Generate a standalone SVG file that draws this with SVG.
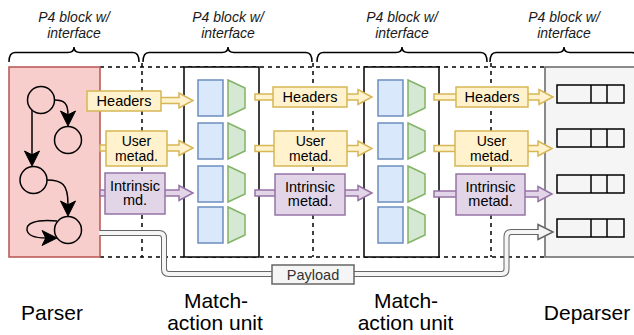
<svg xmlns="http://www.w3.org/2000/svg" width="634" height="335" viewBox="0 0 634 335">
<style>
text{font-family:"Liberation Sans",Arial,Helvetica,sans-serif;fill:#000}
.dash{stroke:#000;stroke-width:1.5;stroke-dasharray:4 4;fill:none}
.brace{stroke:#000;stroke-width:1.5;fill:none}
.bl{font-size:14px;font-style:italic;text-anchor:middle;fill:#1a1a1a}
.big{font-size:21px;text-anchor:middle}
.mau{fill:#fff;stroke:#000;stroke-width:1.5}
.tbl{fill:#dae8fc;stroke:#6c8ebf;stroke-width:1.5}
.act{fill:#d5e8d4;stroke:#82b366;stroke-width:1.5}
.bar{fill:none;stroke:#000;stroke-width:1.5}
.circ{fill:none;stroke:#000;stroke-width:1.5}
.edge{fill:none;stroke:#000;stroke-width:1.5}
.ah{fill:#000;stroke:#000;stroke-width:1}
.ya{fill:#fff2cc;stroke:#d6b656;stroke-width:1.5}
.pa{fill:#e1d5e7;stroke:#9673a6;stroke-width:1.5}
.lt{font-size:14.5px;text-anchor:middle}
.lt2{font-size:14px;text-anchor:middle}
</style>
<defs>
<g id="mauInner">
<rect class="tbl" x="0" y="0" width="25" height="36"/>
<polygon class="act" points="30,0 47,8 47,28 30,36"/>
</g>
<g id="bar3">
<rect class="bar" x="0" y="0" width="67" height="18"/>
<line class="bar" x1="34" y1="0" x2="34" y2="18"/>
<line class="bar" x1="50" y1="0" x2="50" y2="18"/>
</g>
</defs>

<g id="boundaries">
<line class="dash" x1="100" y1="67" x2="545" y2="67"/>
<line class="dash" x1="100" y1="257" x2="545" y2="257"/>
<line class="dash" x1="142" y1="63" x2="142" y2="257"/>
<line class="dash" x1="313" y1="63" x2="313" y2="257"/>
<line class="dash" x1="491" y1="63" x2="491" y2="257"/>
</g>

<g id="braces">
<path class="brace" d="M9,62 Q9,52.5 15,52.5 H68 Q74,52.5 74,47 Q74,52.5 80,52.5 H133 Q139,52.5 139,62"/>
<path class="brace" d="M143,62 Q143,52.5 149,52.5 H222 Q228,52.5 228,47 Q228,52.5 234,52.5 H306 Q312,52.5 312,62"/>
<path class="brace" d="M317,62 Q317,52.5 323,52.5 H396 Q402,52.5 402,47 Q402,52.5 408,52.5 H481 Q487,52.5 487,62"/>
<path class="brace" d="M490,62 Q490,52.5 496,52.5 H558 Q564,52.5 564,47 Q564,52.5 570,52.5 H632 Q638,52.5 638,62"/>
<text class="bl" x="74" y="21.5">P4 block w/</text>
<text class="bl" x="74" y="37.5">interface</text>
<text class="bl" x="228" y="21.5">P4 block w/</text>
<text class="bl" x="228" y="37.5">interface</text>
<text class="bl" x="402" y="21.5">P4 block w/</text>
<text class="bl" x="402" y="37.5">interface</text>
<text class="bl" x="564" y="21.5">P4 block w/</text>
<text class="bl" x="564" y="37.5">interface</text>
</g>

<g id="parser">
<rect x="9" y="67" width="91" height="190" fill="#f8cecc" stroke="#b85450" stroke-width="1.5"/>
<circle class="circ" cx="41" cy="100" r="13.5"/>
<circle class="circ" cx="68" cy="140" r="13.5"/>
<circle class="circ" cx="33.5" cy="180" r="13.5"/>
<circle class="circ" cx="68" cy="230" r="13.5"/>
<path class="edge" d="M54.5,100 C64,100 68,103 68,115"/>
<polygon class="ah" points="68,126 60.5,111 68,114.75 75.5,111"/>
<path class="edge" d="M32,110 V155"/>
<polygon class="ah" points="32,166 24.5,151 32,154.75 39.5,151"/>
<path class="edge" d="M47,180 C62,180 68,184 68,204"/>
<polygon class="ah" points="68,216 60.5,201 68,204.75 75.5,201"/>
<path class="edge" d="M57,221 C34,219 26,224 27,230 C28,236 36,238 46,238"/>
<polygon class="ah" points="57,238 42,230.5 45.75,238 42,245.5"/>
<text class="big" x="52" y="320">Parser</text>
</g>

<g id="mau1">
<rect class="mau" x="184" y="67" width="75" height="190"/>
<use href="#mauInner" x="198" y="80"/>
<use href="#mauInner" x="198" y="123"/>
<use href="#mauInner" x="198" y="166"/>
<use href="#mauInner" x="198" y="207"/>
<text class="big" x="216" y="308">Match-</text>
<text class="big" x="215" y="330">action unit</text>
</g>

<g id="mau2">
<rect class="mau" x="364" y="67" width="75" height="190"/>
<use href="#mauInner" x="378" y="80"/>
<use href="#mauInner" x="378" y="123"/>
<use href="#mauInner" x="378" y="166"/>
<use href="#mauInner" x="378" y="207"/>
<text class="big" x="406" y="308">Match-</text>
<text class="big" x="405.5" y="330">action unit</text>
</g>

<g id="deparser">
<rect x="545" y="67" width="100" height="190" fill="#f5f5f5" stroke="#666" stroke-width="1.5"/>
<use href="#bar3" x="557" y="85"/>
<use href="#bar3" x="557" y="129"/>
<use href="#bar3" x="557" y="175"/>
<use href="#bar3" x="557" y="219"/>
<text class="big" x="587" y="320">Deparser</text>
</g>

<g id="connectors">
<polygon class="ya" points="100,97.5 179,97.5 179,93 193,100.5 179,108 179,103.5 100,103.5"/>
<polygon class="ya" points="100,145 179,145 179,140.5 193,148 179,155.5 179,151 100,151"/>
<polygon class="pa" points="100,190 179,190 179,185.5 193,193 179,200.5 179,196 100,196"/>
<polygon class="ya" points="255,94 358,94 358,89.5 372,97 358,104.5 358,100 255,100"/>
<polygon class="ya" points="255,145.5 358,145.5 358,141 372,148.5 358,156 358,151.5 255,151.5"/>
<polygon class="pa" points="255,190 358,190 358,185.5 372,193 358,200.5 358,196 255,196"/>
<polygon class="ya" points="434,94 539,94 539,89.5 553,97 539,104.5 539,100 434,100"/>
<polygon class="ya" points="434,145.5 538,145.5 538,141 552,148.5 538,156 538,151.5 434,151.5"/>
<polygon class="pa" points="434,191 538,191 538,186.5 552,194 538,201.5 538,197 434,197"/>
<g id="payload">
<path d="M100,233 H159 Q164,233 164,238 V269 Q164,274 169,274 H501.5 Q506.5,274 506.5,269 V237 Q506.5,232 511.5,232 H539" fill="none" stroke="#666" stroke-width="6"/>
<polygon points="538,224.5 553,232 538,239.5" fill="#f5f5f5" stroke="#666" stroke-width="1.5" stroke-linejoin="miter"/>
<path d="M99,233 H159 Q164,233 164,238 V269 Q164,274 169,274 H501.5 Q506.5,274 506.5,269 V237 Q506.5,232 511.5,232 H540" fill="none" stroke="#f5f5f5" stroke-width="4"/>
</g>
</g>

<g id="labels">
<g id="lblA-headers"><rect class="ya" x="87" y="91" width="74" height="20"/><text class="lt" x="124" y="106">Headers</text></g>
<g id="lblA-user"><rect class="ya" x="106" y="131" width="61" height="35"/><text class="lt2" x="136.5" y="146">User</text><text class="lt2" x="136.5" y="161">metad.</text></g>
<g id="lblA-intr"><rect class="pa" x="105" y="173" width="60" height="41"/><text class="lt" x="135" y="190.5">Intrinsic</text><text class="lt" x="135" y="205">md.</text></g>
<g id="lblB-headers"><rect class="ya" x="273" y="87" width="74" height="20"/><text class="lt" x="310" y="102">Headers</text></g>
<g id="lblB-user"><rect class="ya" x="274" y="131" width="73" height="35"/><text class="lt2" x="310.5" y="146">User</text><text class="lt2" x="310.5" y="161">metad.</text></g>
<g id="lblB-intr"><rect class="pa" x="275" y="174" width="70" height="41"/><text class="lt" x="310" y="191.5">Intrinsic</text><text class="lt" x="310" y="206">metad.</text></g>
<g id="lblC-headers"><rect class="ya" x="456" y="87" width="72" height="20"/><text class="lt" x="492" y="102">Headers</text></g>
<g id="lblC-user"><rect class="ya" x="455" y="131" width="73" height="35"/><text class="lt2" x="491.5" y="146">User</text><text class="lt2" x="491.5" y="161">metad.</text></g>
<g id="lblC-intr"><rect class="pa" x="456" y="174" width="69" height="41"/><text class="lt" x="490.5" y="191.5">Intrinsic</text><text class="lt" x="490.5" y="206">metad.</text></g>
<g id="lbl-payload"><rect x="272" y="265" width="82" height="19" fill="#f5f5f5" stroke="#666" stroke-width="1.5"/><text class="lt" x="313" y="279.5" style="fill:#333">Payload</text></g>
</g>
</svg>
